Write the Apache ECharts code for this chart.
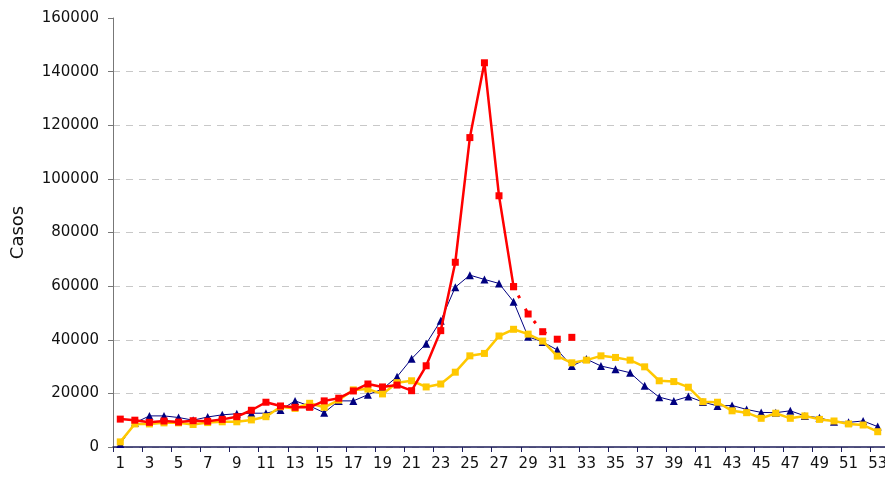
<!DOCTYPE html>
<html>
<head>
<meta charset="utf-8">
<script src="https://cdn.jsdelivr.net/npm/echarts@6/dist/echarts.min.js"></script>
<style>
  html, body { margin: 0; padding: 0; background: #fff; }
  #chart { width: 885px; height: 480px; }
</style>
</head>
<body>
<div id="chart"></div>
<script>
  // semanas 1..53
  var weeks = [];
  for (var w = 1; w <= 53; w++) weeks.push(String(w));

  var yTicks = [0, 20000, 40000, 60000, 80000, 100000, 120000, 140000, 160000];

  // serie roja (trazo continuo hasta la semana 28, luego punteado)
  var redSolid = [10400, 10000, 9200, 9700, 9300, 9800, 9600, 10300, 11300, 13700,
    16700, 15300, 14800, 14800, 17200, 18200, 20900, 23500, 22400, 23100,
    21000, 30300, 43400, 68900, 115400, 143300, 93700, 59800];
  var redDotted = [49600, 43000, 40200, 40900];

  // serie azul (triangulos)
  var navyVals = [1100, 9000, 11600, 11600, 11000, 10000, 11200, 12000, 12400, 12600,
    12600, 13800, 17200, 15300, 12800, 17200, 17200, 19500, 21600, 26200,
    32900, 38500, 47100, 59600, 64100, 62500, 61000, 54200, 41100, 39200,
    36200, 30200, 32800, 30200, 29000, 27700, 22800, 18600, 17200, 18800,
    16800, 15300, 15500, 14000, 12900, 12800, 13500, 11600, 10900, 9400,
    9200, 9700, 7600];

  // serie amarilla (cuadrados)
  var yellowVals = [1900, 8600, 8600, 9000, 9000, 8400, 9100, 9400, 9400, 10100,
    11300, 15000, 14400, 16300, 14800, 17500, 21300, 21600, 19800, 24000,
    24700, 22400, 23500, 27900, 34000, 34900, 41400, 43900, 42100, 39500,
    33900, 31400, 32400, 34000, 33400, 32400, 29900, 24700, 24400, 22300,
    16900, 16700, 13500, 12800, 10700, 12600, 10700, 11600, 10300, 9700,
    8600, 8200, 5700];

  // tramo punteado: empieza en la semana 28 para que quede unido
  var redTail = [];
  for (var i = 0; i < 53; i++) redTail.push(null);
  redTail[27] = redSolid[27];
  for (var j = 0; j < redDotted.length; j++) redTail[28 + j] = redDotted[j];

  var fontFam = 'DejaVu Sans';
  var gridColors = yTicks.map(function (v, k) {
    return k === yTicks.length - 1 ? 'rgba(0,0,0,0)' : '#c8c8c8';
  });

  var chart = echarts.init(document.getElementById('chart'));
  chart.setOption({
    animation: false,
    grid: { left: 113, right: 0, top: 18, bottom: 33, outerBoundsMode: 'none' },
    xAxis: {
      type: 'category',
      data: weeks,
      boundaryGap: true,
      axisLine: { lineStyle: { color: '#1c1c5a', width: 1.5 } },
      axisTick: { show: true, length: 5, lineStyle: { color: '#1c1c5a' } },
      axisLabel: { interval: 1, margin: 10, color: '#111', fontSize: 15, fontFamily: fontFam, hideOverlap: false }
    },
    yAxis: {
      type: 'value',
      min: 0,
      max: 160000,
      interval: 20000,
      name: 'Casos',
      nameLocation: 'middle',
      nameGap: 86,
      nameRotate: 90,
      nameTextStyle: { color: '#111', fontSize: 18, fontFamily: fontFam },
      axisLine: { show: true, lineStyle: { color: '#777', width: 1 } },
      axisTick: { show: true, length: 5, lineStyle: { color: '#777' } },
      axisLabel: {
        margin: 14, color: '#111', fontSize: 15, fontFamily: fontFam,
        formatter: function (v) { return String(v); }
      },
      splitLine: { show: true, lineStyle: { color: gridColors, type: [7, 6], width: 1 } }
    },
    series: [
      {
        name: 'azul',
        type: 'line',
        data: navyVals,
        symbol: 'triangle',
        symbolSize: 8,
        lineStyle: { color: '#000080', width: 1 },
        itemStyle: { color: '#000080' },
        z: 2
      },
      {
        name: 'amarilla',
        type: 'line',
        data: yellowVals,
        symbol: 'rect',
        symbolSize: 7,
        lineStyle: { color: '#ffc800', width: 2.5 },
        itemStyle: { color: '#ffc800' },
        z: 3
      },
      {
        name: 'roja',
        type: 'line',
        data: redSolid,
        symbol: 'rect',
        symbolSize: 7,
        lineStyle: { color: '#ff0000', width: 2.5 },
        itemStyle: { color: '#ff0000' },
        z: 4
      },
      {
        name: 'roja2',
        type: 'line',
        data: redTail,
        symbol: 'rect',
        symbolSize: 7,
        lineStyle: { color: '#ff0000', width: 3, type: [3, 12], dashOffset: -10 },
        itemStyle: { color: '#ff0000' },
        z: 4
      }
    ]
  });
</script>
</body>
</html>
